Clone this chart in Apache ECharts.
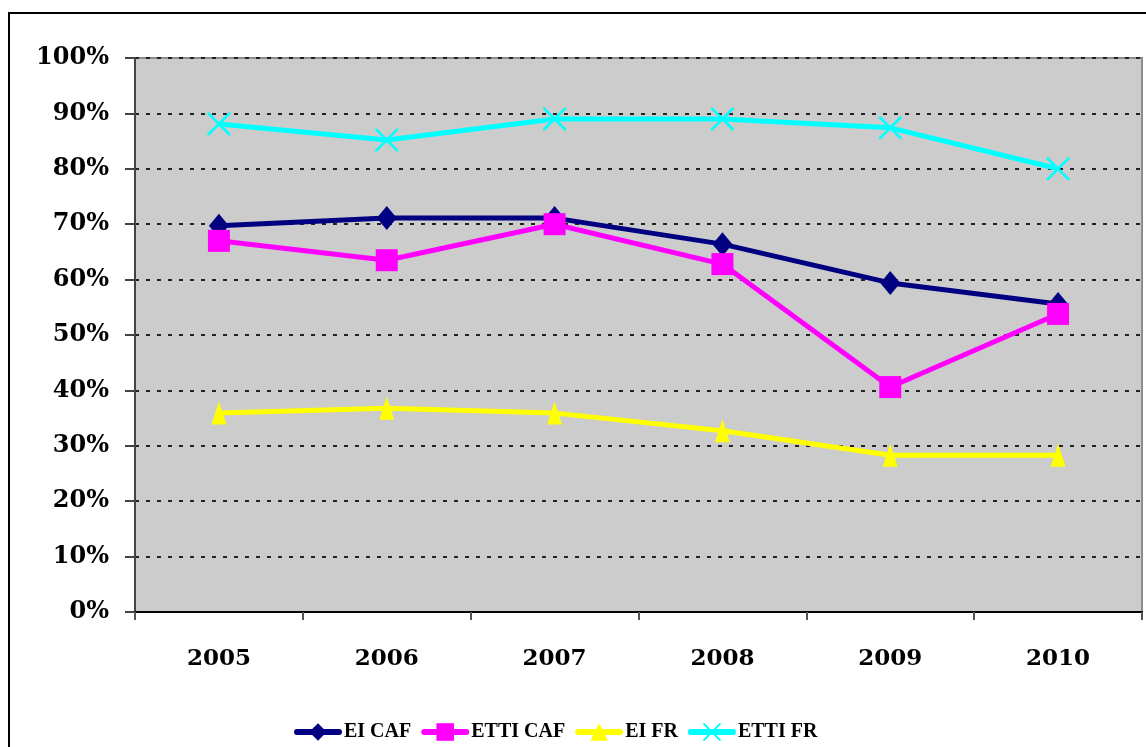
<!DOCTYPE html>
<html>
<head>
<meta charset="utf-8">
<style>
  html, body { margin: 0; padding: 0; background: #fff; overflow: hidden; width: 1146px; height: 747px; }
  #wrap { position: relative; width: 1146px; height: 747px; overflow: hidden; }
  /* outer chart-area frame: only its top and left edges fall inside the page */
  .edge { position: absolute; background: #000; }
  #edgeTop { left: 8px; top: 12px; width: 3000px; height: 2px; }
  #edgeLeft { left: 8px; top: 12px; width: 2px; height: 3000px; }
  #chart { position: absolute; left: 0; top: 0; width: 1146px; height: 747px; }
</style>
<script src="https://cdn.jsdelivr.net/npm/echarts@6/dist/echarts.min.js"></script>
</head>
<body>
<div id="wrap">
  <div class="edge" id="edgeTop"></div>
  <div class="edge" id="edgeLeft"></div>
  <div id="chart"></div>
</div>
<script>
// Years on the category axis
const years = ['2005', '2006', '2007', '2008', '2009', '2010'];

// Shares per year, in percent
const eiCaf   = [69.7, 71.1, 71.1, 66.4, 59.4, 55.6];
const ettiCaf = [67.0, 63.5, 70.0, 62.8, 40.6, 53.8];
const eiFr    = [35.9, 36.8, 35.9, 32.7, 28.3, 28.3];
const ettiFr  = [88.1, 85.2, 89.0, 89.0, 87.4, 80.0];

const seriesNames = ['EI CAF', 'ETTI CAF', 'EI FR', 'ETTI FR'];

// Y-axis tick range (percent)
const yMin = 0, yMax = 100, yStep = 10;

// Thin "X" cross used as the ETTI FR marker
const crossPath = 'path://M0,0L0.8,0L10,9.2L10,10L9.2,10L0,0.8Z M9.2,0L10,0L10,0.8L0.8,10L0,10L0,9.2Z';

const serifFont = '"DejaVu Serif", "Liberation Serif", serif';

function lineSeries(name, data, color, symbol, size) {
  return {
    name: name,
    type: 'line',
    data: data,
    symbol: symbol,
    symbolSize: size,
    showAllSymbol: true,
    lineStyle: { color: color, width: 5 },
    itemStyle: { color: color },
    emphasis: { disabled: true },
    animation: false
  };
}

const chart = echarts.init(document.getElementById('chart'), null, { renderer: 'canvas' });

chart.setOption({
  animation: false,
  grid: {
    left: 135, top: 58, right: 4, bottom: 135,
    show: true,
    backgroundColor: '#cccccc',
    borderColor: '#8c8c8c',
    borderWidth: 2
  },
  legend: {
    data: seriesNames,
    left: 289,
    top: 717,
    itemWidth: 42,
    itemHeight: 22,
    itemGap: 10,
    lineStyle: { width: 6, cap: 'round' },
    textStyle: {
      fontFamily: '"Liberation Serif", serif',
      fontWeight: 'bold',
      fontSize: 20,
      color: '#000'
    }
  },
  xAxis: {
    type: 'category',
    data: years,
    boundaryGap: true,
    axisLine: { lineStyle: { color: '#000', width: 2 } },
    axisTick: { show: true, length: 8, lineStyle: { color: '#555', width: 2 } },
    axisLabel: {
      margin: 36,
      fontFamily: serifFont,
      fontWeight: 'bold',
      fontSize: 23,
      color: '#000'
    },
    splitLine: { show: false }
  },
  yAxis: {
    type: 'value',
    min: yMin,
    max: yMax,
    interval: yStep,
    axisLine: { show: true, lineStyle: { color: '#444', width: 2 } },
    axisTick: { show: true, length: 10, lineStyle: { color: '#444', width: 2 } },
    axisLabel: {
      margin: 26,
      formatter: '{value}%',
      fontFamily: serifFont,
      fontWeight: 'bold',
      fontSize: 24,
      color: '#000'
    },
    splitLine: {
      show: true,
      lineStyle: { color: '#222', width: 2, type: [4, 7] }
    }
  },
  series: [
    lineSeries(seriesNames[0], eiCaf,   '#000080', 'diamond', [20, 24]),
    lineSeries(seriesNames[1], ettiCaf, '#ff00ff', 'rect', 22),
    lineSeries(seriesNames[2], eiFr,    '#ffff00', 'triangle', [15, 23]),
    lineSeries(seriesNames[3], ettiFr,  '#00ffff', crossPath, 23)
  ]
});
</script>
</body>
</html>
